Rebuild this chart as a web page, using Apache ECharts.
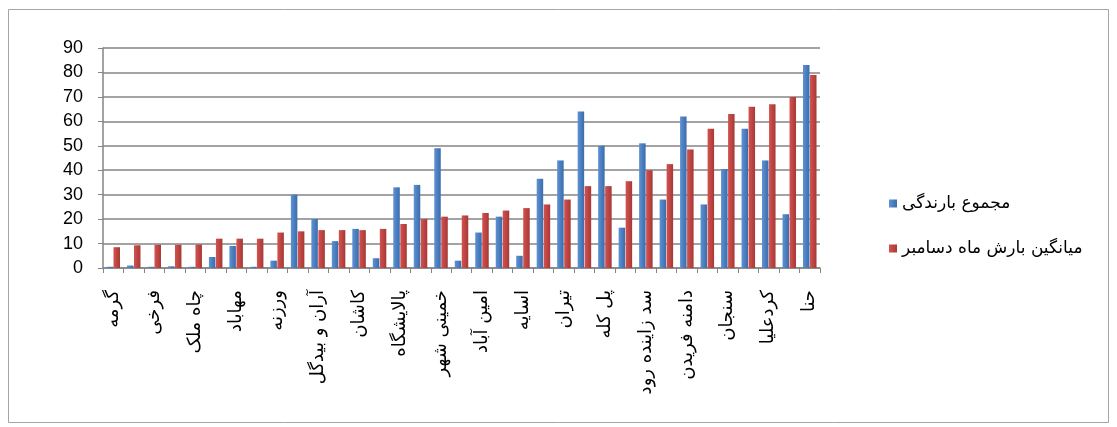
<!DOCTYPE html>
<html>
<head>
<meta charset="utf-8">
<script src="https://cdn.jsdelivr.net/npm/echarts@6/dist/echarts.min.js"></script>
<style>
  html, body { margin: 0; padding: 0; background: #ffffff; }
  #chart { width: 1117px; height: 427px; }
</style>
</head>
<body>
<div id="chart"></div>
<script>
// Stations (every second name is shown under the axis)
const stations = [
  'گرمه', '', 'فرخی', '', 'چاه ملک', '', 'مهاباد', '', 'ورزنه', '',
  'آران و بیدگل', '', 'کاشان', '', 'پالایشگاه', '', 'خمینی شهر', '',
  'امین آباد', '', 'اسایه', '', 'تیران', '', 'پل کله', '',
  'سد زاینده رود', '', 'دامنه فریدن', '', 'سنجان', '', 'کردعلیا', '', 'حنا'
];

// Total precipitation (mm)
const totalRain = [
  0.5, 1, 0.5, 0.7, 0.5, 4.5, 9, 0.5, 3, 30,
  20, 11, 16, 4, 33, 34, 49, 3, 14.5, 21,
  5, 36.5, 44, 64, 50, 16.5, 51, 28, 62, 26,
  40.5, 57, 44, 22, 83
];

// Mean December precipitation (mm)
const decemberMean = [
  8.5, 9.3, 9.5, 9.5, 9.6, 12, 12, 12, 14.5, 15,
  15.5, 15.5, 15.5, 16, 18, 20, 21, 21.5, 22.5, 23.5,
  24.5, 26, 28, 33.5, 33.5, 35.5, 40, 42.5, 48.5, 57,
  63, 66, 67, 70, 79
];

const yTicks = { min: 0, max: 90, step: 10 };
const seriesNames = ['مجموع بارندگی', 'میانگین بارش ماه دسامبر'];

function shade(c1, c2) {
  return new echarts.graphic.LinearGradient(0, 0, 1, 0, [
    { offset: 0, color: c1 }, { offset: 1, color: c2 }
  ]);
}

const chart = echarts.init(document.getElementById('chart'), null, { renderer: 'canvas' });

chart.setOption({
  animation: false,
  backgroundColor: '#ffffff',
  graphic: [{
    type: 'rect',
    shape: { x: 8.5, y: 9.5, width: 1100, height: 413 },
    style: { fill: 'none', stroke: '#a6a6a6', lineWidth: 1 },
    silent: true
  }],
  legend: {
    orient: 'vertical',
    left: 884,
    top: 190,
    itemWidth: 8,
    itemHeight: 8,
    itemGap: 28,
    icon: 'rect',
    textStyle: { fontFamily: 'DejaVu Sans', fontSize: 17, color: '#000000' },
    data: seriesNames
  },
  grid: { left: 103, right: 297, top: 48, bottom: 159, containLabel: false },
  xAxis: {
    type: 'category',
    data: stations,
    axisLine: { lineStyle: { color: '#858585', width: 1.5 } },
    axisTick: { show: true, length: 5, lineStyle: { color: '#858585' } },
    axisLabel: {
      interval: 0,
      rotate: 90,
      margin: 22,
      fontFamily: 'DejaVu Sans',
      fontSize: 18,
      color: '#000000'
    }
  },
  yAxis: {
    type: 'value',
    min: yTicks.min,
    max: yTicks.max,
    interval: yTicks.step,
    axisLine: { show: true, lineStyle: { color: '#858585', width: 1.5 } },
    axisTick: { show: true, length: 5, lineStyle: { color: '#858585' } },
    axisLabel: {
      margin: 20,
      fontFamily: 'Liberation Sans',
      fontSize: 18,
      color: '#000000'
    },
    splitLine: { lineStyle: { color: '#858585', width: 1.6 } }
  },
  series: [
    {
      name: seriesNames[0],
      type: 'bar',
      data: totalRain,
      barWidth: 6.5,
      barGap: '8%',
      itemStyle: { color: shade('#5d92d4', '#3b6cab') }
    },
    {
      name: seriesNames[1],
      type: 'bar',
      data: decemberMean,
      barWidth: 6.5,
      itemStyle: { color: shade('#d4524f', '#a63936') }
    }
  ]
});
</script>
</body>
</html>
